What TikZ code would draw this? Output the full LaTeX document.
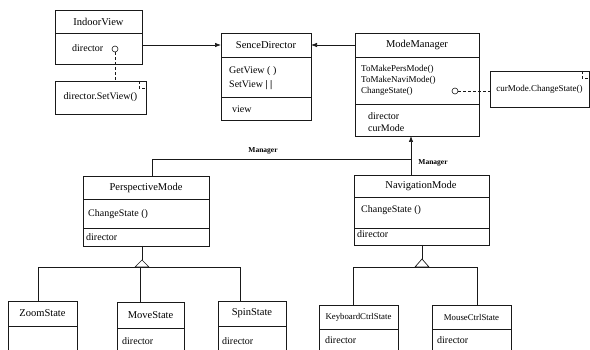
\documentclass[tikz,border=0pt]{standalone}
\usepackage{fontspec}
\setmainfont{Liberation Serif}
\usetikzlibrary{arrows.meta}

\definecolor{linecolor}{rgb}{0.1,0.1,0.1}

\newcommand{\namefont}{\fontsize{10.5}{10.5}\selectfont}
\newcommand{\memberfont}{\fontsize{10}{10}\selectfont}
\newcommand{\opfont}{\fontsize{9}{9}\selectfont}
\newcommand{\statefont}{\fontsize{8.8}{8.8}\selectfont}
\newcommand{\rolefont}{\fontsize{7.5}{7.5}\selectfont}

% frame of a class box, from (#2,#3) to (#4,#5)
\newcommand{\classframe}[5]{
	\node [boxframe,anchor=north west,minimum width=#4pt-#2pt,minimum height=#5pt-#3pt] (#1) at (#2,#3) {};
}
% compartment line across box #1 at height #2
\newcommand{\compline}[2]{
	\draw [color=linecolor,line width=0.7pt] (#1.west |- 0,#2) -- (#1.east |- 0,#2);
}
% folded corner of a note
\newcommand{\dogear}[1]{
	\draw [color=linecolor,line width=0.6pt,densely dashed] ([xshift=-7pt]#1.north east) -- ++(0,7) -- ++(7,0);
}

\begin{document}
\begin{tikzpicture}[x=1pt,y=1pt,yscale=-1,
	boxframe/.style={draw=linecolor,line width=0.7pt,inner sep=0pt,outer sep=0pt},
	note/.style={boxframe,anchor=north west,font=\memberfont},
	classname/.style={inner sep=0pt,font=\namefont},
	statename/.style={inner sep=0pt,font=\statefont},
	member/.style={inner sep=0pt,anchor=west,font=\memberfont},
	operation/.style={inner sep=0pt,anchor=west,font=\opfont},
	rolename/.style={inner sep=0pt,font=\rolefont\bfseries},
	socket/.style={circle,draw=linecolor,line width=0.6pt,inner sep=0pt,minimum size=6pt},
	line/.style={draw=linecolor,line width=0.7pt},
	arrow/.style={line,-{Latex[length=6pt,width=4.5pt]}}]

\clip (0,0) rectangle (590,350);

% top row
\classframe{indoorview}{55}{10}{142}{64}
\compline{indoorview}{33}
\node [classname] (indoorname) at (98.5,21.5) {IndoorView};
\node [member] (indoordirector) at (72,48) {director};
\node [socket] (indoorsocket) at (115,49) {};

\node [note,minimum width=91pt,minimum height=33pt] (setviewnote) at (55,81) {director.SetView()};
\dogear{setviewnote}

\classframe{sencedirector}{221}{33}{311}{120}
\compline{sencedirector}{57}
\compline{sencedirector}{97}
\node [classname] (sencename) at (266,45) {SenceDirector};
\node [member] (getview) at (229,71) {GetView ( )};
\node [member] (setview) at (229,85) {SetView \textbf{| |}};
\node [member] (viewattr) at (232,109) {view};

\classframe{modemanager}{355}{33}{479}{136}
\compline{modemanager}{57}
\compline{modemanager}{104}
\node [classname] (modename) at (417,45) {ModeManager};
\node [operation] (topers) at (361,69) {ToMakePersMode()};
\node [operation] (tonavi) at (361,80) {ToMakeNaviMode()};
\node [operation] (changestate) at (361,91) {ChangeState()};
\node [socket] (modesocket) at (455,91) {};
\node [member] (modedirector) at (368,116) {director};
\node [member] (curmode) at (368,128) {curMode};

\node [note,minimum width=99pt,minimum height=36pt,font=\opfont] (changenote) at (490,71) {curMode.ChangeState()};
\dogear{changenote}

% middle row
\classframe{perspectivemode}{83}{176}{209}{246}
\compline{perspectivemode}{199}
\compline{perspectivemode}{228}
\node [classname] (persname) at (146,187.5) {PerspectiveMode};
\node [member] (perschange) at (88,214) {ChangeState ()};
\node [member] (persdirector) at (86,237) {director};

\classframe{navigationmode}{354}{175}{489}{245}
\compline{navigationmode}{197}
\compline{navigationmode}{228}
\node [classname] (naviname) at (421,186) {NavigationMode};
\node [member] (navichange) at (361,210) {ChangeState ()};
\node [member] (navidirector) at (357,234) {director};

% bottom row
\classframe{zoomstate}{8}{301}{77}{360}
\compline{zoomstate}{326}
\node [classname] (zoomname) at (42.5,313.5) {ZoomState};

\classframe{movestate}{117}{302}{184}{360}
\compline{movestate}{328}
\node [classname] (movename) at (150.5,315) {MoveState};
\node [member] (movedirector) at (122,341) {director};

\classframe{spinstate}{218}{301}{286}{360}
\compline{spinstate}{326}
\node [classname] (spinname) at (252,313.5) {SpinState};
\node [member] (spindirector) at (222,341) {director};

\classframe{keyboardstate}{319}{305}{398}{360}
\compline{keyboardstate}{329}
\node [statename] (keyboardname) at (358.5,317) {KeyboardCtrlState};
\node [member] (keyboarddirector) at (325,340) {director};

\classframe{mousestate}{432}{305}{511}{360}
\compline{mousestate}{329}
\node [statename] (mousename) at (471.5,317) {MouseCtrlState};
\node [member] (mousedirector) at (437,340) {director};

% connectors
\draw [line,densely dashed] (indoorsocket.south) -- (indoorsocket.south |- setviewnote.north);
\draw [line,densely dashed] (modesocket.east) -- (modesocket.east -| changenote.west);
\draw [arrow] (indoorview.east |- 0,45) -- (sencedirector.west |- 0,45);
\draw [arrow] (modemanager.west |- 0,45) -- (sencedirector.east |- 0,45);

% Manager links
\coordinate (managerjoin) at (411,159);
\draw [arrow] (navigationmode.north -| managerjoin) -- (modemanager.south -| managerjoin);
\draw [line] (perspectivemode.north -| 152,0) |- (managerjoin);
\node [rolename] (managerleft) at (263,151) {Manager};
\node [rolename] (managerright) at (433,163) {Manager};

% generalizations
\coordinate (perstip) at (142,260);
\coordinate (persbus) at (142,267);
\draw [line] (perspectivemode.south -| perstip) -- (perstip);
\draw [line] (perstip) -- ++(7,7) -- ++(-14,0) -- cycle;
\draw [line] (zoomstate.north -| 38,0) |- (persbus);
\draw [line] (spinstate.north -| 240,0) |- (persbus);
\draw [line] (movestate.north -| 140,0) -- (persbus -| 140,0);

\coordinate (navitip) at (422,259);
\coordinate (navibus) at (422,267);
\draw [line] (navigationmode.south -| navitip) -- (navitip);
\draw [line] (navitip) -- ++(7,8) -- ++(-14,0) -- cycle;
\draw [line] (keyboardstate.north -| 353,0) |- (navibus);
\draw [line] (mousestate.north -| 477,0) |- (navibus);
\end{tikzpicture}
\end{document}
